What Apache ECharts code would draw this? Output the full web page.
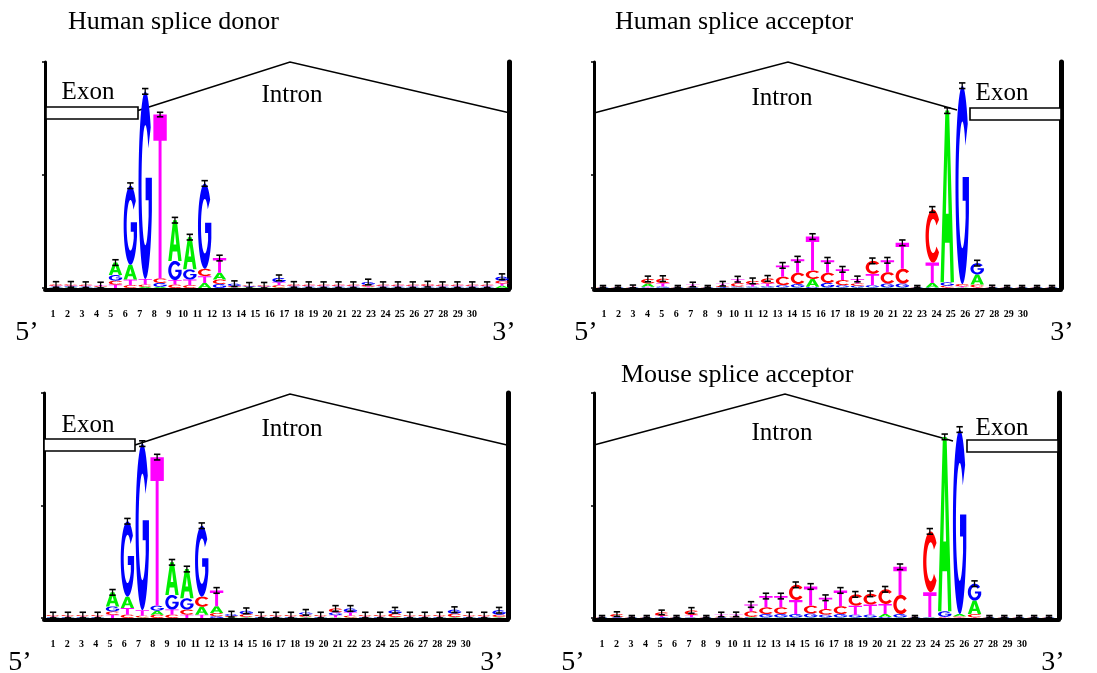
<!DOCTYPE html>
<html><head><meta charset="utf-8">
<script src="https://cdn.jsdelivr.net/npm/echarts@6/dist/echarts.min.js"></script>
<style>html,body{margin:0;padding:0;background:#fff}#c{width:1097px;height:673px}</style>
</head><body><div id="c"></div>
<script>
// ---------- data ----------
const positions = [1,2,3,4,5,6,7,8,9,10,11,12,13,14,15,16,17,18,19,20,21,22,23,24,25,26,27,28,29,30,31];
const tickLabels = ['1','2','3','4','5','6','7','8','9','10','11','12','13','14','15','16','17','18','19','20','21','22','23','24','25','26','27','28','29','30'];

// Human splice donor (bits)
const hdA = [.005,.006,.005,.005,.11,.13,.01,.01,.36,.285,.045,.06,.005,.004,.005,.005,.005,.005,.005,.005,.005,.005,.005,.005,.005,.005,.005,.005,.005,.005,.02];
const hdC = [.012,.01,.01,.008,.035,.025,.02,.04,.03,.025,.065,.04,.008,.008,.008,.02,.012,.01,.01,.01,.01,.015,.01,.01,.01,.015,.01,.01,.01,.01,.025];
const hdG = [.006,.008,.006,.005,.05,.70,1.66,.035,.17,.09,.755,.035,.02,.006,.006,.04,.006,.006,.006,.006,.006,.025,.006,.006,.006,.006,.006,.006,.006,.006,.035];
const hdT = [.008,.008,.008,.008,.03,.05,.05,1.45,.04,.05,.06,.13,.005,.005,.005,.025,.008,.008,.008,.008,.008,.008,.008,.008,.008,.008,.008,.008,.008,.008,.02];
const hdErr = [.025,.025,.025,.025,.025,.025,.025,.02,.025,.025,.025,.025,.025,.025,.025,.025,.025,.025,.025,.025,.025,.025,.025,.025,.025,.025,.025,.025,.025,.025,.025];

// Human splice acceptor
const haA = [.003,.003,.003,.03,.003,.003,.003,.003,.003,.005,.005,.005,.005,.005,.07,.005,.005,.005,.005,.005,.005,.003,.04,1.52,.005,.09,.003,.003,.003,.003,.003];
const haC = [.004,.004,.004,.04,.04,.004,.005,.004,.01,.03,.03,.045,.075,.10,.075,.09,.045,.02,.115,.10,.13,.004,.47,.015,.02,.025,.004,.004,.004,.004,.004];
const haG = [.003,.003,.003,.005,.01,.003,.003,.003,.005,.008,.008,.01,.02,.03,.01,.04,.02,.015,.02,.035,.035,.003,.005,.03,1.755,.10,.003,.003,.003,.003,.003];
const haT = [.004,.004,.004,.005,.03,.004,.02,.004,.02,.035,.02,.025,.10,.12,.30,.11,.095,.04,.10,.105,.23,.004,.18,.005,.01,.005,.004,.004,.004,.004,.004];
const haErr = [.008,.008,.012,.025,.025,.008,.02,.008,.02,.025,.025,.025,.025,.025,.025,.025,.025,.025,.025,.025,.025,.008,.025,.025,.025,.025,.01,.008,.008,.008,.008];

// Mouse splice donor
const mdA = [.004,.004,.004,.004,.125,.10,.005,.035,.29,.26,.07,.06,.004,.004,.004,.004,.004,.004,.004,.005,.005,.004,.004,.004,.004,.004,.004,.004,.004,.004,.004];
const mdC = [.01,.01,.01,.01,.03,.03,.015,.03,.03,.045,.09,.03,.01,.025,.01,.01,.01,.02,.01,.035,.015,.01,.01,.03,.01,.01,.01,.03,.01,.01,.02];
const mdG = [.006,.006,.006,.006,.045,.67,1.48,.045,.13,.10,.63,.015,.015,.03,.006,.006,.006,.02,.006,.025,.035,.006,.006,.03,.006,.006,.006,.035,.006,.006,.04];
const mdT = [.006,.006,.006,.006,.028,.06,.05,1.32,.045,.03,.03,.14,.005,.005,.006,.006,.006,.006,.006,.02,.03,.006,.006,.005,.006,.006,.006,.005,.006,.006,.005];
const mdErr = [.025,.025,.025,.025,.025,.025,.025,.025,.025,.025,.025,.025,.025,.025,.025,.025,.025,.025,.025,.025,.025,.025,.025,.025,.025,.025,.025,.025,.025,.025,.025];

// Mouse splice acceptor
const maA = [.003,.003,.003,.003,.003,.003,.003,.003,.003,.003,.004,.005,.005,.005,.005,.005,.005,.005,.005,.025,.005,.003,.005,1.55,.02,.12,.003,.003,.003,.003,.003];
const maC = [.004,.025,.004,.004,.03,.004,.04,.004,.005,.005,.05,.06,.06,.135,.07,.05,.07,.10,.095,.13,.17,.004,.54,.005,.01,.03,.004,.004,.004,.004,.004];
const maG = [.003,.003,.003,.003,.005,.003,.004,.003,.003,.004,.006,.03,.03,.03,.035,.025,.03,.025,.025,.01,.03,.003,.005,.05,1.64,.15,.003,.003,.003,.003,.003];
const maT = [.004,.004,.004,.004,.012,.004,.02,.004,.02,.02,.06,.10,.10,.125,.17,.10,.14,.08,.09,.09,.25,.004,.22,.005,.005,.005,.004,.004,.004,.004,.004];
const maErr = [.008,.02,.008,.008,.02,.008,.025,.008,.02,.02,.025,.025,.025,.025,.025,.025,.025,.025,.025,.025,.025,.008,.025,.025,.025,.025,.008,.008,.008,.008,.008];

// ---------- glyphs ----------
const COLORS = {A:'#00ee00', C:'#ff0000', G:'#0000ff', T:'#ff00ff'};
function arc(cx, cy, rx, ry, a0, a1, n) {
  const pts = [];
  for (let i = 0; i <= n; i++) {
    const a = (a0 + (a1 - a0) * i / n) * Math.PI / 180;
    pts.push([cx + rx * Math.cos(a), cy + ry * Math.sin(a)]);
  }
  return pts;
}
function area(c) {
  let s = 0;
  for (let i = 0; i < c.length; i++) {
    const p = c[i], q = c[(i + 1) % c.length];
    s += p[0] * q[1] - q[0] * p[1];
  }
  return s / 2;
}
function normalize(contours) {
  let x0 = Infinity, x1 = -Infinity, y0 = Infinity, y1 = -Infinity;
  contours.forEach(c => c.forEach(p => {
    x0 = Math.min(x0, p[0]); x1 = Math.max(x1, p[0]);
    y0 = Math.min(y0, p[1]); y1 = Math.max(y1, p[1]);
  }));
  const out = contours.map(c => c.map(p => [(p[0] - x0) / (x1 - x0), (p[1] - y0) / (y1 - y0)]));
  const s0 = Math.sign(area(out[0]));
  for (let i = 1; i < out.length; i++) {
    if (Math.sign(area(out[i])) === s0) out[i].reverse();
  }
  return out;
}
const GLYPHS = {
  A: normalize([
    [[0,1],[0.36,0],[0.64,0],[1,1],[0.75,1],[0.67,0.77],[0.33,0.77],[0.25,1]],
    [[0.40,0.60],[0.60,0.60],[0.5,0.26]]
  ]),
  C: normalize([ arc(.5,.5,.5,.5,-38,-322,48).concat(arc(.5,.5,.28,.32,-322,-38,36)) ]),
  G: normalize([ arc(.5,.5,.5,.5,-38,-344,48).concat([[.98,.46],[.52,.46],[.52,.58],[.74,.58]], arc(.5,.5,.28,.32,31,322,36)) ]),
  T: normalize([[[0,0],[1,0],[1,.16],[.61,.16],[.61,1],[.39,1],[.39,.16],[0,.16]]])
};
function glyphPath(contours, x, y, w, h) {
  let d = '';
  contours.forEach(c => {
    c.forEach((p, i) => {
      d += (i === 0 ? 'M' : 'L') + (x + p[0] * w).toFixed(2) + ' ' + (y + p[1] * h).toFixed(2) + ' ';
    });
    d += 'Z ';
  });
  return d;
}

// ---------- series builder ----------
function logoSeries(idx, A, C, G, T, E) {
  const data = positions.map((p, i) => [p, A[i], C[i], G[i], T[i], E[i]]);
  return {
    type: 'custom', xAxisIndex: idx, yAxisIndex: idx * 2, data: data, z: 3,
    renderItem: function (params, api) {
      const p = api.value(0);
      const vals = [['A', api.value(1)], ['C', api.value(2)], ['G', api.value(3)], ['T', api.value(4)]];
      vals.sort((a, b) => a[1] - b[1]);
      const err = api.value(5);
      const xc = api.coord([p, 0])[0];
      const bw = api.size([1, 0])[0] * 0.9;
      let cum = 0;
      const children = [];
      vals.forEach(([L, v]) => {
        const yb = api.coord([p, cum])[1];
        const yt = api.coord([p, cum + v])[1];
        cum += v;
        const h = yb - yt;
        if (h < 0.2) return;
        children.push({
          type: 'path',
          shape: { pathData: glyphPath(GLYPHS[L], xc - bw / 2, yt, bw, h) },
          style: { fill: COLORS[L], stroke: null }
        });
      });
      const yTop = api.coord([p, cum + err])[1];
      const yBot = api.coord([p, Math.max(0, cum - err)])[1];
      const cw = 3.2;
      children.push({ type: 'line', shape: { x1: xc, y1: yTop, x2: xc, y2: yBot }, style: { stroke: '#000', lineWidth: 1.3 } });
      children.push({ type: 'line', shape: { x1: xc - cw, y1: yTop, x2: xc + cw, y2: yTop }, style: { stroke: '#000', lineWidth: 1.6 } });
      children.push({ type: 'line', shape: { x1: xc - cw, y1: yBot, x2: xc + cw, y2: yBot }, style: { stroke: '#000', lineWidth: 1.6 } });
      return { type: 'group', children: children };
    }
  };
}

// ---------- layout ----------
const W = 1097, H = 673;
const panels = [
  { left: 45, right: 509, top: 62, bottom: 288, min: 0.26, max: 31.47 },
  { left: 594, right: 1061, top: 62, bottom: 288, min: 0.40, max: 31.60 },
  { left: 44, right: 508, top: 393, bottom: 618, min: 0.39, max: 31.60 },
  { left: 594, right: 1059, top: 393, bottom: 618, min: 0.46, max: 31.67 }
];
const labelGrids = [
  { left: 45.8, width: 433.5, top: 300 },
  { left: 596.8, width: 433.5, top: 300 },
  { left: 45.9, width: 427, top: 630 },
  { left: 594.8, width: 434.5, top: 630 }
];

const grid = [], xAxis = [], yAxis = [];
panels.forEach((p, i) => {
  grid.push({ left: p.left, top: p.top, width: p.right - p.left, height: p.bottom - p.top });
  xAxis.push({
    type: 'value', gridIndex: i, min: p.min, max: p.max, offset: 2,
    axisLine: { show: true, onZero: false, lineStyle: { color: '#000', width: 4 } },
    axisTick: { show: false }, axisLabel: { show: false }, splitLine: { show: false }
  });
  yAxis.push({
    type: 'value', gridIndex: i, min: 0, max: 2, interval: 1, position: 'left',
    axisLine: { show: true, lineStyle: { color: '#000', width: 3 } },
    axisTick: { show: true, length: 3, inside: false, lineStyle: { color: '#000', width: 1.5 } },
    axisLabel: { show: false }, splitLine: { show: false }
  });
  yAxis.push({
    type: 'value', gridIndex: i, min: 0, max: 2, position: 'right',
    axisLine: { show: true, lineStyle: { color: '#000', width: 5 } },
    axisTick: { show: false }, axisLabel: { show: false }, splitLine: { show: false }
  });
});
labelGrids.forEach((g, i) => {
  const gi = 4 + i;
  grid.push({ left: g.left, top: g.top, width: g.width, height: 4 });
  xAxis.push({
    type: 'category', gridIndex: gi, data: tickLabels, boundaryGap: true,
    axisLine: { show: false }, axisTick: { show: false }, splitLine: { show: false },
    axisLabel: { interval: 0, margin: 5, fontFamily: '"Liberation Serif", "Times New Roman", serif', fontWeight: 'bold', fontSize: 10, color: '#000' }
  });
  yAxis.push({ type: 'value', gridIndex: gi, show: false });
});

const labelSeries = labelGrids.map((g, i) => ({
  type: 'line', xAxisIndex: 4 + i, yAxisIndex: 8 + i, data: [], silent: true
}));

const SERIF = '"Liberation Serif", "Times New Roman", serif';
function txt(s, x, y, size, align) {
  return { type: 'text', x: x, y: y, z: 1, style: {
    text: s, font: size + 'px ' + SERIF, fill: '#000',
    textAlign: align || 'center', align: align || 'center',
    textVerticalAlign: 'middle', verticalAlign: 'middle' } };
}
function pline(pts) {
  return { type: 'polyline', z: 1, shape: { points: pts }, style: { stroke: '#000', lineWidth: 1.6, fill: null } };
}
function exonBox(x, y, w, h) {
  return { type: 'rect', z: 1, shape: { x: x, y: y, width: w, height: h }, style: { fill: '#fff', stroke: '#000', lineWidth: 1.6 } };
}

const graphics = [
  txt('Human splice donor', 68, 22, 26, 'left'),
  txt('Human splice acceptor', 615, 22, 26, 'left'),
  txt('Mouse splice acceptor', 621, 375, 26, 'left'),
  // panel 1
  pline([[138, 110.5], [290, 62], [508, 112.5]]),
  exonBox(46, 107, 92, 12),
  txt('Exon', 88, 92, 25), txt('Intron', 292, 95, 25),
  // panel 2
  pline([[594, 113], [788, 62], [957, 110]]),
  exonBox(970, 108, 91, 12),
  txt('Intron', 782, 98, 25), txt('Exon', 1002, 93, 25),
  // panel 3
  pline([[135, 445], [290, 394], [507, 445]]),
  exonBox(44, 439, 91, 12),
  txt('Exon', 88, 425, 25), txt('Intron', 292, 429, 25),
  // panel 4
  pline([[594, 445], [785, 394], [953, 441]]),
  exonBox(967, 440, 91, 12),
  txt('Intron', 782, 433, 25), txt('Exon', 1002, 428, 25),
  // 5' / 3'
  txt('5\u2019', 27, 333, 28), txt('3\u2019', 504, 333, 28),
  txt('5\u2019', 586, 333, 28), txt('3\u2019', 1062, 333, 28),
  txt('5\u2019', 20, 663, 28), txt('3\u2019', 492, 663, 28),
  txt('5\u2019', 573, 663, 28), txt('3\u2019', 1053, 663, 28)
];

const chart = echarts.init(document.getElementById('c'), null, { renderer: 'canvas', width: W, height: H });
chart.setOption({
  animation: false,
  backgroundColor: '#fff',
  grid: grid, xAxis: xAxis, yAxis: yAxis,
  graphic: { elements: graphics },
  series: [
    logoSeries(0, hdA, hdC, hdG, hdT, hdErr),
    logoSeries(1, haA, haC, haG, haT, haErr),
    logoSeries(2, mdA, mdC, mdG, mdT, mdErr),
    logoSeries(3, maA, maC, maG, maT, maErr)
  ].concat(labelSeries)
});
</script>
</body></html>
